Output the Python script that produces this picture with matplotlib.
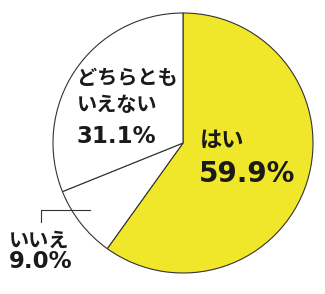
import matplotlib.pyplot as plt

plt.rcParams['font.family'] = ['Noto Sans CJK JP', 'DejaVu Sans']

labels = ['はい', 'いいえ', 'どちらとも\nいえない']
values = [59.9, 9.0, 31.1]
colors = ['#f0e62a', '#ffffff', '#ffffff']

fig = plt.figure(figsize=(3.25, 2.94), dpi=100)
ax = fig.add_axes([0, 0, 1, 1])

cx, cy, r = 183, 143, 130
wedges, _ = ax.pie(values, colors=colors, startangle=90, counterclock=False,
                   center=(cx, cy), radius=r, frame=True,
                   wedgeprops=dict(edgecolor='#333333', linewidth=0.8))
# pie draws with y up; mirror the angles since the y axis is inverted below
for w in wedges:
    t1, t2 = w.theta1, w.theta2
    w.set_theta1(-t2)
    w.set_theta2(-t1)
ax.set_xlim(0, 325)
ax.set_ylim(294, 0)
ax.set_aspect('equal')
ax.axis('off')

tc = '#1a1a1a'
kana = dict(fontweight='bold', color=tc, va='baseline')
nums = dict(fontweight='bold', color=tc, va='baseline', family=['DejaVu Sans'])

line1, line2 = labels[2].split('\n')
ax.text(200, 147, labels[0], fontsize=16, **kana)
ax.text(199, 182, f'{values[0]:.1f}%', fontsize=20, **nums)

ax.text(77, 84, line1, fontsize=14.5, **kana)
ax.text(77, 111, line2, fontsize=14.5, **kana)
ax.text(77, 143, f'{values[2]:.1f}%', fontsize=16.5, **nums)

ax.text(9, 247, labels[1], fontsize=14.5, **kana)
ax.text(9, 268, f'{values[1]:.1f}%', fontsize=16.5, **nums)

# leader line for the small slice
ax.plot([90, 41, 41], [210, 210, 222], color='#333333', lw=0.8)

fig.savefig('out.png', dpi=100)
